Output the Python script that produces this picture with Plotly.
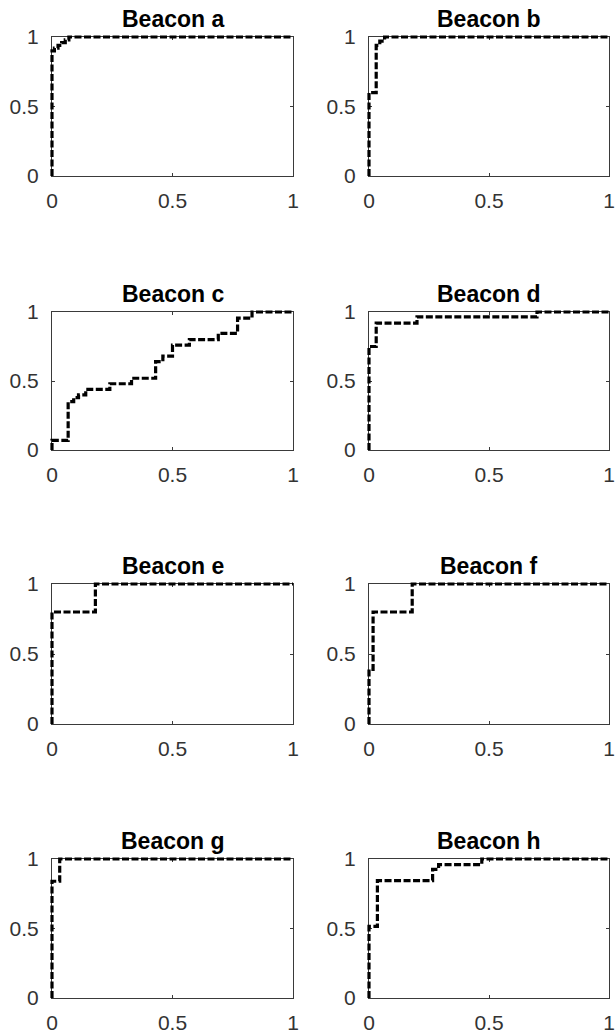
import plotly.graph_objects as go

# ---- data (ROC step corners) ----
titles = ["Beacon a", "Beacon b", "Beacon c", "Beacon d",
          "Beacon e", "Beacon f", "Beacon g", "Beacon h"]

fpr_a = [0, 0, 0.01, 0.025, 0.04, 0.055, 0.07, 1]
tpr_a = [0, 0.9, 0.92, 0.94, 0.96, 0.98, 1, 1]
fpr_b = [0, 0, 0.03, 0.045, 0.065, 1]
tpr_b = [0, 0.6, 0.94, 0.97, 1, 1]
fpr_c = [0, 0, 0.067, 0.09, 0.11, 0.14, 0.24, 0.33, 0.43, 0.46, 0.5, 0.57, 0.69, 0.77, 0.83, 1]
tpr_c = [0, 0.07, 0.35, 0.38, 0.4, 0.44, 0.48, 0.52, 0.64, 0.68, 0.76, 0.8, 0.845, 0.955, 1, 1]
fpr_d = [0, 0, 0.03, 0.2, 0.7, 1]
tpr_d = [0, 0.75, 0.92, 0.965, 1, 1]
fpr_e = [0, 0, 0.18, 1]
tpr_e = [0, 0.8, 1, 1]
fpr_f = [0, 0, 0.017, 0.18, 1]
tpr_f = [0, 0.39, 0.8, 1, 1]
fpr_g = [0, 0, 0.032, 1]
tpr_g = [0, 0.84, 1, 1]
fpr_h = [0, 0, 0.035, 0.265, 0.29, 0.47, 1]
tpr_h = [0, 0.515, 0.845, 0.925, 0.96, 1, 1]

tick_vals = [0, 0.5, 1]
tick_text = ["0", "0.5", "1"]

series = [(fpr_a, tpr_a), (fpr_b, tpr_b), (fpr_c, tpr_c), (fpr_d, tpr_d),
          (fpr_e, tpr_e), (fpr_f, tpr_f), (fpr_g, tpr_g), (fpr_h, tpr_h)]

# ---- layout geometry (pixels) ----
W, H = 616, 1036
cols = [(52, 293), (369, 609)]
rows = [(37, 176), (312, 450), (584, 724), (859, 998)]
PAD = 4  # extra px around data axes so the thick line is not clipped

FONT = "Liberation Sans, Arial, Helvetica, sans-serif"
AX = "#3a3a3a"

fig = go.Figure()
layout = {}
annotations = []

for i, (fx, ty) in enumerate(series):
    r, c = divmod(i, 2)
    x0, x1 = cols[c]
    y0, y1 = rows[r]
    wpx, hpx = x1 - x0, y1 - y0
    vis = 2 * i + 1
    dat = 2 * i + 2
    vsuf = "" if vis == 1 else str(vis)
    dom_x = [x0 / W, x1 / W]
    dom_y = [1 - y1 / H, 1 - y0 / H]
    axis_common = dict(range=[0, 1], showline=True, linecolor=AX, linewidth=1,
                       mirror="allticks", ticks="inside", ticklen=3, tickcolor=AX,
                       tickwidth=1, tickvals=tick_vals, ticktext=tick_text,
                       showgrid=False, zeroline=False, fixedrange=True,
                       automargin=False,
                       tickfont=dict(family=FONT, size=21, color="#333333"))
    layout["xaxis" + vsuf] = dict(domain=dom_x, anchor="y" + vsuf,
                                  ticklabelstandoff=6, **axis_common)
    layout["yaxis" + vsuf] = dict(domain=dom_y, anchor="x" + vsuf,
                                  ticklabelstandoff=8, **axis_common)
    ex, ey = PAD / wpx, PAD / hpx
    layout[f"xaxis{dat}"] = dict(domain=[(x0 - PAD) / W, (x1 + PAD) / W],
                                 range=[-ex, 1 + ex], anchor=f"y{dat}",
                                 showline=False, showticklabels=False, ticks="",
                                 showgrid=False, zeroline=False, fixedrange=True,
                                 automargin=False)
    layout[f"yaxis{dat}"] = dict(domain=[1 - (y1 + PAD) / H, 1 - (y0 - PAD) / H],
                                 range=[-ey, 1 + ey], anchor=f"x{dat}",
                                 showline=False, showticklabels=False, ticks="",
                                 showgrid=False, zeroline=False, fixedrange=True,
                                 automargin=False)
    # empty trace so the framed axes are drawn
    fig.add_trace(go.Scatter(x=[None], y=[None], mode="lines",
                             xaxis="x" + vsuf, yaxis="y" + vsuf,
                             showlegend=False, hoverinfo="skip"))
    fig.add_trace(go.Scatter(x=fx, y=ty, mode="lines", line_shape="hv",
                             line=dict(color="black", width=3.2, dash="7px,2.5px"),
                             xaxis=f"x{dat}", yaxis=f"y{dat}", showlegend=False,
                             hoverinfo="skip"))
    annotations.append(dict(text=f"<b>{titles[i]}</b>", xref="paper", yref="paper",
                            x=(x0 + x1) / 2 / W, y=1 - y0 / H, xanchor="center",
                            yanchor="bottom", yshift=3, showarrow=False,
                            font=dict(family=FONT, size=23, color="black")))

fig.update_layout(**layout)
fig.update_layout(template="none", width=W, height=H,
                  margin=dict(l=0, r=0, t=0, b=0, pad=0),
                  paper_bgcolor="white", plot_bgcolor="rgba(0,0,0,0)",
                  annotations=annotations, showlegend=False)

fig.write_html("out.html", config={"displayModeBar": False},
               post_script="document.body.style.margin='0';"
                           "document.body.style.overflow='hidden';")
